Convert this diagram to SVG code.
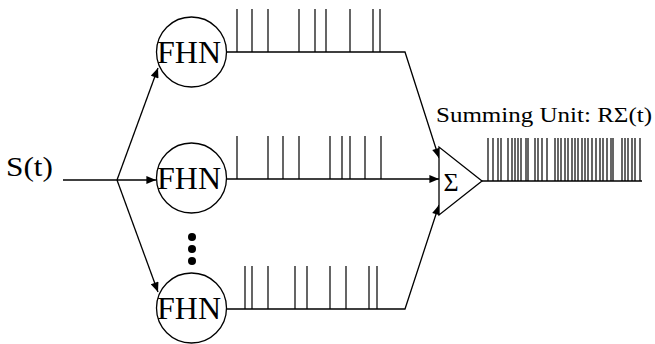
<svg xmlns="http://www.w3.org/2000/svg" width="655" height="344" viewBox="0 0 655 344">
<style>
.ln{fill:none;stroke:#000;stroke-width:1.3}
.sp{fill:none;stroke:#000;stroke-width:1.2}
.nd{fill:#fff;stroke:#000;stroke-width:1.3}
.t{font-family:"Liberation Serif","Times New Roman",serif;fill:#000}
</style>
<defs>
<marker id="ah" viewBox="0 0 12 10" refX="12" refY="5" markerWidth="12" markerHeight="8" markerUnits="userSpaceOnUse" orient="auto">
<path d="M0,0 L12,5 L0,10 z" fill="#000"/>
</marker>
</defs>
<g id="connectors">
<path class="ln" d="M63,180 H117"/>
<path class="ln" d="M117,180 L158,68" marker-end="url(#ah)"/>
<path class="ln" d="M117,180 H156" marker-end="url(#ah)"/>
<path class="ln" d="M117,180 L158,292" marker-end="url(#ah)"/>
<path class="ln" d="M226,52 H405 L439,158" marker-end="url(#ah)"/>
<path class="ln" d="M226,179 H439" marker-end="url(#ah)"/>
<path class="ln" d="M226,309 H405 L439,205" marker-end="url(#ah)"/>
<path class="ln" d="M482,181 H642"/>
<path class="sp" d="M237,52V9M252,52V9M268,52V9M299,52V9M315,52V9M326,52V9M350,52V9M373,52V9M380,52V9"/>
<path class="sp" d="M237,179V136M268,179V136M283,179V136M299,179V136M330,179V136M342,179V136M350,179V136M365,179V136M381,179V136"/>
<path class="sp" d="M245,309V266M252,309V266M268,309V266M295,309V266M307,309V266M330,309V266M346,309V266M369,309V266M377,309V266"/>
<path class="sp" d="M488,181V138M493,181V138M498,181V138M501,181V138M508,181V138M512,181V138M515,181V138M518,181V138M521,181V138M526,181V138M528,181V138M535,181V138M538,181V138M542,181V138M547,181V138M555,181V138M558,181V138M561,181V138M565,181V138M568,181V138M572,181V138M575,181V138M578,181V138M582,181V138M585,181V138M588,181V138M592,181V138M596,181V138M600,181V138M603,181V138M607,181V138M611,181V138M613,181V138M622,181V138M625,181V138M628,181V138M632,181V138M635,181V138M640,181V138"/>
</g>
<g id="input">
<text class="t" x="6" y="176" font-size="27" textLength="47" lengthAdjust="spacingAndGlyphs">S(t)</text>
</g>
<g id="fhn1">
<circle class="nd" cx="191.5" cy="52" r="35"/>
<text class="t" x="189" y="63" font-size="32" text-anchor="middle">FHN</text>
</g>
<g id="fhn2">
<circle class="nd" cx="191.5" cy="178" r="35"/>
<text class="t" x="189" y="189" font-size="32" text-anchor="middle">FHN</text>
</g>
<g id="fhn3">
<circle class="nd" cx="191.5" cy="308" r="35"/>
<text class="t" x="189" y="319" font-size="32" text-anchor="middle">FHN</text>
</g>
<g id="ellipsis">
<circle cx="192" cy="237" r="4" fill="#000"/>
<circle cx="192" cy="249" r="4" fill="#000"/>
<circle cx="192" cy="261" r="4" fill="#000"/>
</g>
<g id="sum">
<path class="nd" d="M439,147 L439,215 L482,181 z"/>
<text class="t" x="451" y="191" font-size="26" text-anchor="middle">Σ</text>
</g>
<g id="sum-label">
<text class="t" x="436" y="122" font-size="22" textLength="216" lengthAdjust="spacingAndGlyphs">Summing Unit: RΣ(t)</text>
</g>
</svg>
